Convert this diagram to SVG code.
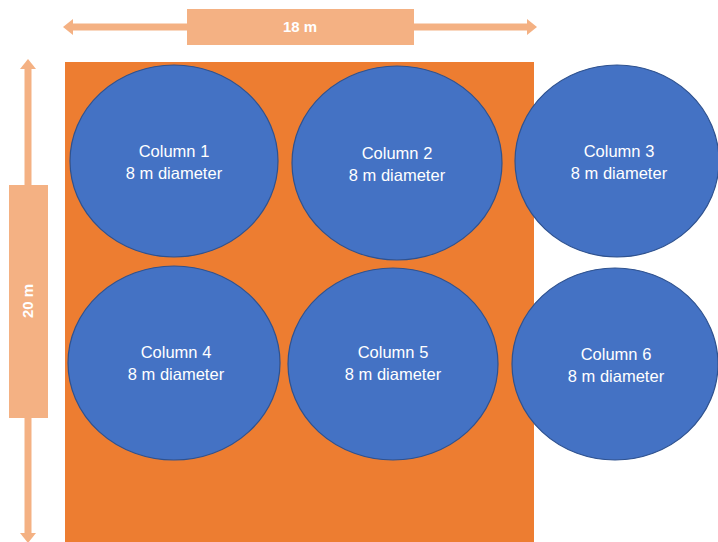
<svg xmlns="http://www.w3.org/2000/svg" width="718" height="542" viewBox="0 0 718 542">
  <style>
    .col { fill: #4472C4; stroke: #2F528F; stroke-width: 1.2; }
    .lbl { font-family: "Liberation Sans", Arial, sans-serif; font-size: 16.5px; fill: #FFFFFF; text-anchor: middle; }
    .dim { fill: #F4B183; }
    .dimline { stroke: #F4B183; stroke-width: 7; fill: none; }
    .dimtxt { font-family: "Liberation Sans", Arial, sans-serif; font-size: 15px; font-weight: bold; fill: #FFFFFF; text-anchor: middle; }
  </style>
  <rect width="718" height="542" fill="#FFFFFF"/>
  <g id="site">
    <rect x="65" y="62" width="469" height="480" fill="#ED7D31"/>
  </g>
  <g id="connectors">
    <g id="dim-width">
      <line class="dimline" x1="72" y1="27" x2="528" y2="27"/>
      <polygon class="dim" points="63,27 73,19 73,35"/>
      <polygon class="dim" points="537,27 527,19 527,35"/>
      <rect class="dim" x="187" y="9" width="227" height="36"/>
      <text class="dimtxt" x="300" y="32">18 m</text>
    </g>
    <g id="dim-height">
      <line class="dimline" x1="28" y1="68" x2="28" y2="535"/>
      <polygon class="dim" points="28,59 20,69 36,69"/>
      <polygon class="dim" points="28,543 20,533 36,533"/>
      <rect class="dim" x="9" y="185" width="39" height="233"/>
      <text class="dimtxt" transform="translate(33,301) rotate(-90)" x="0" y="0">20 m</text>
    </g>
  </g>
  <g id="column1">
    <ellipse class="col" cx="174" cy="161" rx="104" ry="96"/>
    <text class="lbl" x="174" y="157">Column 1</text>
    <text class="lbl" x="174" y="179">8 m diameter</text>
  </g>
  <g id="column2">
    <ellipse class="col" cx="397" cy="163" rx="105" ry="97"/>
    <text class="lbl" x="397" y="159">Column 2</text>
    <text class="lbl" x="397" y="181">8 m diameter</text>
  </g>
  <g id="column3">
    <ellipse class="col" cx="617" cy="161" rx="102" ry="96"/>
    <text class="lbl" x="619" y="157">Column 3</text>
    <text class="lbl" x="619" y="179">8 m diameter</text>
  </g>
  <g id="column4">
    <ellipse class="col" cx="174" cy="363" rx="106" ry="97"/>
    <text class="lbl" x="176" y="358">Column 4</text>
    <text class="lbl" x="176" y="380">8 m diameter</text>
  </g>
  <g id="column5">
    <ellipse class="col" cx="393" cy="364" rx="105" ry="96"/>
    <text class="lbl" x="393" y="358">Column 5</text>
    <text class="lbl" x="393" y="380">8 m diameter</text>
  </g>
  <g id="column6">
    <ellipse class="col" cx="615" cy="364" rx="103" ry="96"/>
    <text class="lbl" x="616" y="360">Column 6</text>
    <text class="lbl" x="616" y="382">8 m diameter</text>
  </g>
</svg>
